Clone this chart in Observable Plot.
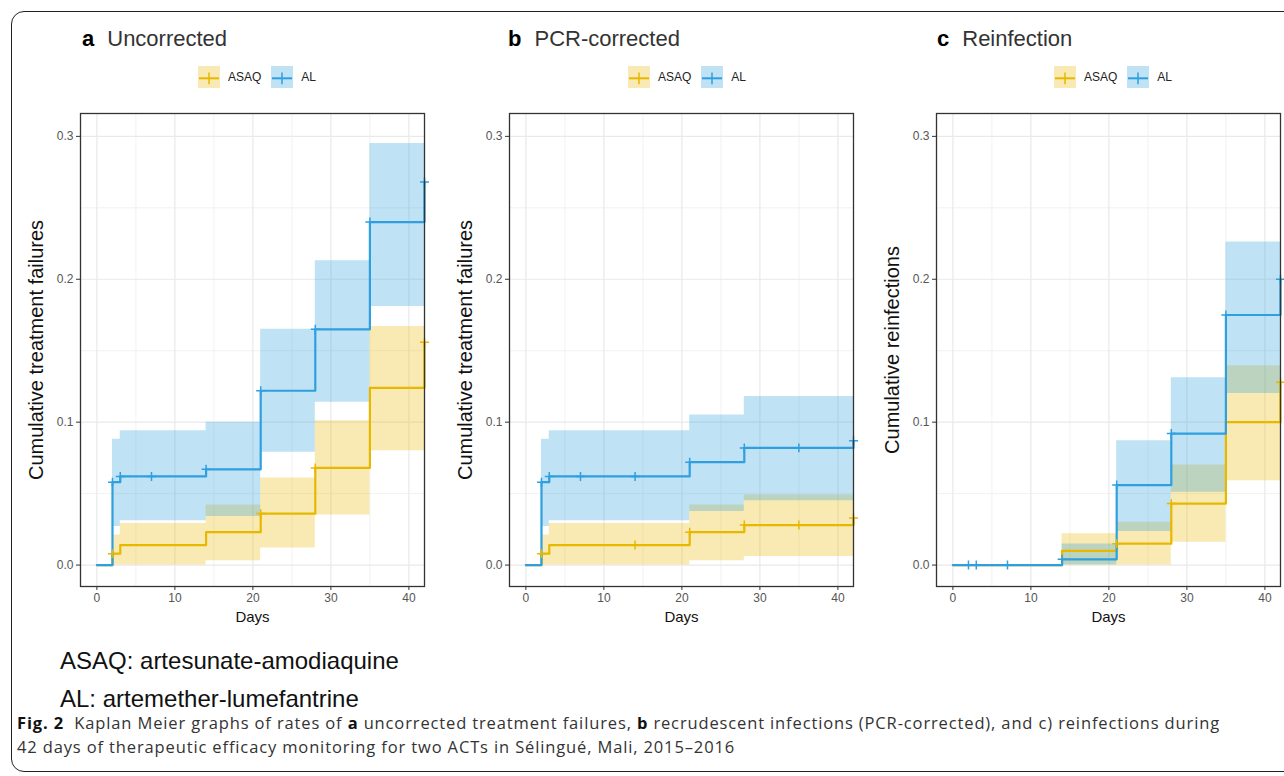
<!DOCTYPE html>
<html>
<head>
<meta charset="utf-8">
<script src="https://cdn.jsdelivr.net/npm/d3@7"></script>
<script src="https://cdn.jsdelivr.net/npm/@observablehq/plot@0.6"></script>
<style>
  html, body { margin: 0; padding: 0; background: #fff; overflow: hidden; }
  #root { position: relative; width: 1284px; height: 776px; overflow: hidden; background: #fff;
          font-family: "Liberation Sans", Arial, sans-serif; }
  .outer { position: absolute; left: 11px; top: 11px; width: 1300px; height: 761px;
           border: 1.3px solid #222; border-radius: 13px; box-sizing: border-box; }
  .title { position: absolute; top: 26px; font-size: 22px; color: #333; white-space: nowrap; line-height: normal; }
  .title b { color: #000; }
  .title span { margin-left: 13px; }
  .legend { position: absolute; top: 66px; height: 22px; display: flex; align-items: center;
            font-size: 12px; color: #222; white-space: nowrap; }
  .legend svg { display: block; }
  .legend .lt { margin-left: 8px; margin-right: 10px; }
  .panel { position: absolute; top: 105px; width: 410px; height: 521px; }
  .panel svg { overflow: visible; max-width: none !important; }
  .panel g[aria-label="x-axis tick label"], .panel g[aria-label="y-axis tick label"] { fill: #555; }
  .panel g[aria-label="x-axis tick"], .panel g[aria-label="y-axis tick"] { stroke: #333; }
  .panel g[aria-label="x-axis label"] { fill: #111; font-size: 15px; }
  .panel g[aria-label="y-axis label"] { fill: #111; font-size: 20px; }
  .note { position: absolute; left: 60px; font-size: 24px; color: #111; white-space: nowrap; line-height: normal; }
  .cap { position: absolute; left: 17px; font-family: "Open Sans", "Noto Sans", sans-serif; font-size: 16.5px;
         color: #333; white-space: nowrap; line-height: normal; }
  .cap b { color: #111; }
</style>
</head>
<body>
<div id="root">
  <div class="outer"></div>
</div>
<script>
// ---------- data ----------
const groups = ["ASAQ", "AL"];
const colors = ["#E7B800", "#2E9FDF"];
const times = [0, 2, 3, 14, 21, 28, 35, 42];

const xMajor = [0, 10, 20, 30, 40];
const xMinor = [5, 15, 25, 35];
const yMajor = [0, 0.1, 0.2, 0.3];
const yMinor = [0.05, 0.15, 0.25];

const panelLetters = ["a", "b", "c"];
const panelTitles = ["Uncorrected", "PCR-corrected", "Reinfection"];
const yLabels = ["Cumulative treatment failures", "Cumulative treatment failures", "Cumulative reinfections"];

// a: Uncorrected
const a_ASAQ_est = [0, 0.008, 0.014, 0.023, 0.036, 0.068, 0.124, 0.156];
const a_ASAQ_lo  = [0, 0, 0, 0.003, 0.012, 0.035, 0.080];
const a_ASAQ_hi  = [0, 0.021, 0.029, 0.042, 0.061, 0.101, 0.167];
const a_ASAQ_cens = [2, 21, 28, 42];
const a_AL_est = [0, 0.058, 0.062, 0.067, 0.122, 0.165, 0.240, 0.268];
const a_AL_lo  = [0, 0.027, 0.031, 0.034, 0.079, 0.114, 0.181];
const a_AL_hi  = [0, 0.088, 0.094, 0.100, 0.165, 0.213, 0.295];
const a_AL_cens = [2, 3, 7, 14, 21, 28, 35, 42];

// b: PCR-corrected
const b_ASAQ_est = [0, 0.008, 0.014, 0.014, 0.023, 0.028, 0.028, 0.033];
const b_ASAQ_lo  = [0, 0, 0, 0, 0.003, 0.006, 0.006];
const b_ASAQ_hi  = [0, 0.021, 0.029, 0.029, 0.042, 0.049, 0.049];
const b_ASAQ_cens = [2, 14, 21, 28, 35, 42];
const b_AL_est = [0, 0.058, 0.062, 0.062, 0.072, 0.082, 0.082, 0.087];
const b_AL_lo  = [0, 0.027, 0.031, 0.031, 0.0375, 0.045, 0.045];
const b_AL_hi  = [0, 0.088, 0.094, 0.094, 0.105, 0.118, 0.118];
const b_AL_cens = [2, 3, 7, 14, 21, 28, 35, 42];

// c: Reinfection
const c_ASAQ_est = [0, 0, 0, 0.010, 0.015, 0.043, 0.100, 0.128];
const c_ASAQ_lo  = [0, 0, 0, 0, 0, 0.016, 0.059];
const c_ASAQ_hi  = [0, 0, 0, 0.022, 0.030, 0.070, 0.1395];
const c_ASAQ_cens = [21, 28, 42];
const c_AL_est = [0, 0, 0, 0.004, 0.056, 0.092, 0.175, 0.200];
const c_AL_lo  = [0, 0, 0, 0, 0.0235, 0.051, 0.120];
const c_AL_hi  = [0, 0, 0, 0.0147, 0.087, 0.131, 0.226];
const c_AL_cens = [2, 3, 7, 14, 21, 28, 35, 42];

const panels = [
  {est: [a_ASAQ_est, a_AL_est], lo: [a_ASAQ_lo, a_AL_lo], hi: [a_ASAQ_hi, a_AL_hi], cens: [a_ASAQ_cens, a_AL_cens]},
  {est: [b_ASAQ_est, b_AL_est], lo: [b_ASAQ_lo, b_AL_lo], hi: [b_ASAQ_hi, b_AL_hi], cens: [b_ASAQ_cens, b_AL_cens]},
  {est: [c_ASAQ_est, c_AL_est], lo: [c_ASAQ_lo, c_AL_lo], hi: [c_ASAQ_hi, c_AL_hi], cens: [c_ASAQ_cens, c_AL_cens]}
];

// ---------- layout ----------
const panelLeft = [20, 449, 876];
const titleLeft = [82, 508, 937];
const legendLeft = [198, 628, 1054];

const root = document.getElementById("root");

function stepAt(est, t) {
  let v = 0;
  times.forEach((tt, i) => { if (tt <= t) v = est[i]; });
  return v;
}

function makePanel(p, ylabel) {
  const marks = [
    Plot.gridX(xMinor, {stroke: "#ededed", strokeOpacity: 1, strokeWidth: 0.8}),
    Plot.gridY(yMinor, {stroke: "#ededed", strokeOpacity: 1, strokeWidth: 0.8}),
    Plot.gridX(xMajor, {stroke: "#e9e9e9", strokeOpacity: 1, strokeWidth: 1.2}),
    Plot.gridY(yMajor, {stroke: "#e9e9e9", strokeOpacity: 1, strokeWidth: 1.2})
  ];
  // confidence bands
  groups.forEach((g, gi) => {
    const band = times.map((t, i) => {
      const j = Math.min(i, p.lo[gi].length - 1);
      return {x: t, y1: p.lo[gi][j], y2: p.hi[gi][j]};
    });
    marks.push(Plot.areaY(band, {x: "x", y1: "y1", y2: "y2", curve: "step-after",
      fill: colors[gi], fillOpacity: 0.3}));
  });
  // survival step lines
  groups.forEach((g, gi) => {
    const pts = times.map((t, i) => ({x: t, y: p.est[gi][i]}));
    marks.push(Plot.line(pts, {x: "x", y: "y", curve: "step-after", stroke: colors[gi], strokeWidth: 2.2}));
  });
  // censor marks
  groups.forEach((g, gi) => {
    const cs = p.cens[gi].map(t => ({x: t, y: stepAt(p.est[gi], t)}));
    marks.push(Plot.dot(cs, {x: "x", y: "y", symbol: "plus", r: 3, stroke: colors[gi], strokeWidth: 1.5}));
  });
  marks.push(Plot.frame({stroke: "#333", strokeWidth: 1.3}));

  return Plot.plot({
    width: 410, height: 521,
    marginTop: 8, marginBottom: 40, marginLeft: 60, marginRight: 6,
    style: {fontFamily: "'Liberation Sans', Arial, sans-serif", fontSize: "12px", color: "#333", background: "transparent"},
    x: {domain: [-2.1, 42], ticks: xMajor, tickSize: 4, tickPadding: 3,
        label: "Days", labelAnchor: "center", labelArrow: "none", labelOffset: 35},
    y: {domain: [-0.015, 0.316], ticks: yMajor, tickFormat: d3.format(".1f"), tickSize: 4, tickPadding: 3,
        label: ylabel, labelAnchor: "center", labelArrow: "none", labelOffset: 52},
    marks
  });
}

function legendKey(color) {
  return `<svg width="22" height="22"><rect width="22" height="22" fill="${color}" fill-opacity="0.3"/>` +
    `<line x1="1" x2="21" y1="12.3" y2="12.3" stroke="${color}" stroke-width="2"/>` +
    `<line x1="11" x2="11" y1="6.5" y2="18.3" stroke="${color}" stroke-width="1.5"/></svg>`;
}

panels.forEach((p, k) => {
  const t = document.createElement("div");
  t.className = "title";
  t.style.left = titleLeft[k] + "px";
  t.innerHTML = `<b>${panelLetters[k]}</b><span>${panelTitles[k]}</span>`;
  root.appendChild(t);

  const lg = document.createElement("div");
  lg.className = "legend";
  lg.style.left = legendLeft[k] + "px";
  lg.innerHTML = groups.map((g, gi) => legendKey(colors[gi]) + `<span class="lt">${g}</span>`).join("");
  root.appendChild(lg);

  const holder = document.createElement("div");
  holder.className = "panel";
  holder.style.left = panelLeft[k] + "px";
  holder.appendChild(makePanel(p, yLabels[k]));
  root.appendChild(holder);
});

const notes = ["ASAQ: artesunate-amodiaquine", "AL: artemether-lumefantrine"];
const noteTops = [647, 685];
notes.forEach((n, i) => {
  const d = document.createElement("div");
  d.className = "note";
  d.style.top = noteTops[i] + "px";
  d.textContent = n;
  root.appendChild(d);
});

const cap1 = document.createElement("div");
cap1.className = "cap";
cap1.style.top = "711px";
cap1.innerHTML = "<b>Fig. 2</b>&nbsp; Kaplan Meier graphs of rates of <b>a</b> uncorrected treatment failures, <b>b</b> recrudescent infections (PCR-corrected), and c) reinfections during";
root.appendChild(cap1);
const cap2 = document.createElement("div");
cap2.className = "cap";
cap2.style.top = "735px";
cap2.textContent = "42 days of therapeutic efficacy monitoring for two ACTs in Sélingué, Mali, 2015–2016";
root.appendChild(cap2);

// stretch caption tracking so that the first line spans the same width as in the figure
const targetWidth = 1203;
const w = cap1.getBoundingClientRect().width;
const n = cap1.textContent.length;
const ls = Math.max(0, (targetWidth - w) / n);
cap1.style.letterSpacing = ls + "px";
cap2.style.letterSpacing = ls + "px";
</script>
</body>
</html>
